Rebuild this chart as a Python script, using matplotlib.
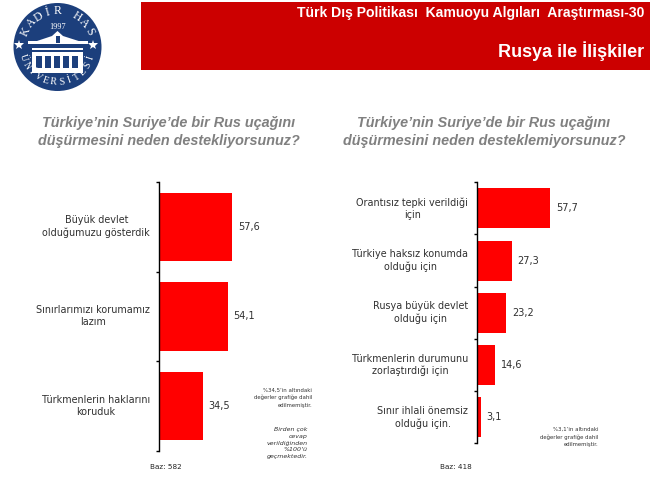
import numpy as np
import matplotlib
matplotlib.use("Agg")
import matplotlib.pyplot as plt
from matplotlib.patches import Circle, Rectangle, Polygon

# left chart
left_labels = ["Büyük devlet\nolduğumuzu gösterdik", "Sınırlarımızı korumamız\nlazım", "Türkmenlerin haklarını\nkoruduk"]
left_values = [57.6, 54.1, 34.5]

# right chart
right_labels = ["Orantısız tepki verildiği\niçin", "Türkiye haksız konumda\nolduğu için", "Rusya büyük devlet\nolduğu için",
                "Türkmenlerin durumunu\nzorlaştırdığı için", "Sınır ihlali önemsiz\nolduğu için."]
right_values = [57.7, 27.3, 23.2, 14.6, 3.1]

header_top = "Türk Dış Politikası  Kamuoyu Algıları  Araştırması-30"
header_main = "Rusya ile İlişkiler"
left_title = "Türkiye’nin Suriye’de bir Rus uçağını\ndüşürmesini neden destekliyorsunuz?"
right_title = "Türkiye’nin Suriye’de bir Rus uçağını\ndüşürmesini neden desteklemiyorsunuz?"

W, H = 650, 488
RED = "#ff0000"
GRAY = "#808080"
NAVY = "#1c3f7c"
VERDANA = "DejaVu Sans"
ARIAL = "Liberation Sans"


def px_axes(fig, x0, y0, x1, y1):
    # positions given in image pixels, y from the top
    return fig.add_axes([x0 / W, 1 - y1 / H, (x1 - x0) / W, (y1 - y0) / H])


def draw_bars(ax, labels, values, px_per_unit, bar_w):
    n = len(values)
    ax.barh(range(n), values, height=bar_w, color=RED, edgecolor="none")
    bbox = ax.get_position()
    ax.set_xlim(0, bbox.width * W / px_per_unit)
    ax.set_ylim(n - 0.5, -0.5)
    for s in ["top", "right", "bottom"]:
        ax.spines[s].set_visible(False)
    ax.spines["left"].set_linewidth(1.0)
    ax.set_xticks([])
    ax.set_yticks(np.arange(n + 1) - 0.5)
    ax.set_yticklabels([])
    ax.tick_params(axis="y", length=2.5, width=1.0, direction="out")
    ax.patch.set_alpha(0)
    for i, (lab, val) in enumerate(zip(labels, values)):
        ax.annotate(lab, (0, i), xytext=(-6, 0), textcoords="offset points", ha="right",
                    va="center", multialignment="center", fontsize=6.9, color="#303030",
                    family=VERDANA, linespacing=1.25, annotation_clip=False)
        ax.annotate(f"{val:.1f}".replace(".", ","), (val, i), xytext=(4, 0),
                    textcoords="offset points", ha="left", va="center", fontsize=7,
                    color="#303030", family=VERDANA)


def draw_logo(ax):
    cx, cy = 57.5, 47
    ax.add_patch(Circle((cx, cy), 44, color=NAVY, lw=0))
    # building
    ax.add_patch(Polygon([(28, 44), (52, 36), (57.5, 31), (63, 36), (88, 44)], color="white", lw=0))
    ax.add_patch(Rectangle((28, 41), 60, 3, color="white", lw=0))
    ax.add_patch(Rectangle((32, 48), 51, 1.5, color="white", lw=0))
    ax.add_patch(Rectangle((32, 52), 51, 21, color="white", lw=0))
    for x in [36, 45, 54, 63, 72]:
        ax.add_patch(Rectangle((x, 56), 5.5, 12, color=NAVY, lw=0))
    ax.add_patch(Rectangle((55.5, 36), 4, 7, color=NAVY, lw=0))
    ax.text(cx, 27, "1997", fontsize=6, color="white", family="Liberation Serif", ha="center", va="center")
    ax.plot([19, 93], [44.5, 44.5], ls="none", marker="*", ms=7, color="white", mew=0)
    # lettering round the rim
    r = 35.5
    top = "KADİR HAS"
    for ch, a in zip(top, np.linspace(154, 26, len(top))):
        ax.text(cx + r * np.cos(np.radians(a)), cy - r * np.sin(np.radians(a)), ch, fontsize=8.5,
                color="white", family="Liberation Serif", ha="center", va="center", rotation=a - 90)
    bottom = "ÜNİVERSİTESİ"
    for ch, a in zip(bottom, np.linspace(198, 342, len(bottom))):
        ax.text(cx + r * np.cos(np.radians(a)), cy - r * np.sin(np.radians(a)), ch, fontsize=7,
                color="white", family="Liberation Serif", ha="center", va="center", rotation=a - 270)


fig = plt.figure(figsize=(6.5, 4.88), dpi=100, facecolor="white")

# full image overlay in pixel coordinates
bg = fig.add_axes([0, 0, 1, 1])
bg.set_xlim(0, W)
bg.set_ylim(H, 0)
bg.axis("off")
bg.add_patch(Rectangle((141, 1.5), W - 141, 68.5, color="#cc0000", lw=0))
bg.text(644, 13, header_top, color="white", fontsize=10.1, fontweight="bold", family=ARIAL, ha="right", va="center")
bg.text(644, 51.5, header_main, color="white", fontsize=13, fontweight="bold", family=ARIAL, ha="right", va="center")
draw_logo(bg)

bg.text(168.5, 132, left_title, color=GRAY, fontsize=10.4, fontweight="bold", style="italic", family=ARIAL,
        ha="center", va="center", linespacing=1.28)
bg.text(484, 132, right_title, color=GRAY, fontsize=10.4, fontweight="bold", style="italic", family=ARIAL,
        ha="center", va="center", linespacing=1.28)

ax1 = px_axes(fig, 158.5, 182, 330, 450.7)
draw_bars(ax1, left_labels, left_values, 1.283, 0.765)
ax2 = px_axes(fig, 476.7, 182.3, 650, 443.3)
draw_bars(ax2, right_labels, right_values, 1.277, 0.766)

bg.text(166, 467, "Baz: 582", fontsize=5.2, family=VERDANA, color="#222222", ha="center", va="center")
bg.text(456, 467, "Baz: 418", fontsize=5.2, family=VERDANA, color="#222222", ha="center", va="center")

bg.text(312, 397.5, "%34,5’in altındaki\ndeğerler grafiğe dahil\nedilmemiştir.", fontsize=3.9, family=VERDANA,
        color="#333333", ha="right", va="center", linespacing=1.55)
bg.text(307.5, 443, "Birden çok\ncevap\nverildiğinden\n%100’ü\ngeçmektedir.", fontsize=4.5, style="italic",
        family=VERDANA, color="#333333", ha="right", va="center", linespacing=1.45)
bg.text(598.5, 437, "%3,1’in altındaki\ndeğerler grafiğe dahil\nedilmemiştir.", fontsize=3.9, family=VERDANA,
        color="#333333", ha="right", va="center", linespacing=1.55)

fig.savefig("out.png", dpi=100)
